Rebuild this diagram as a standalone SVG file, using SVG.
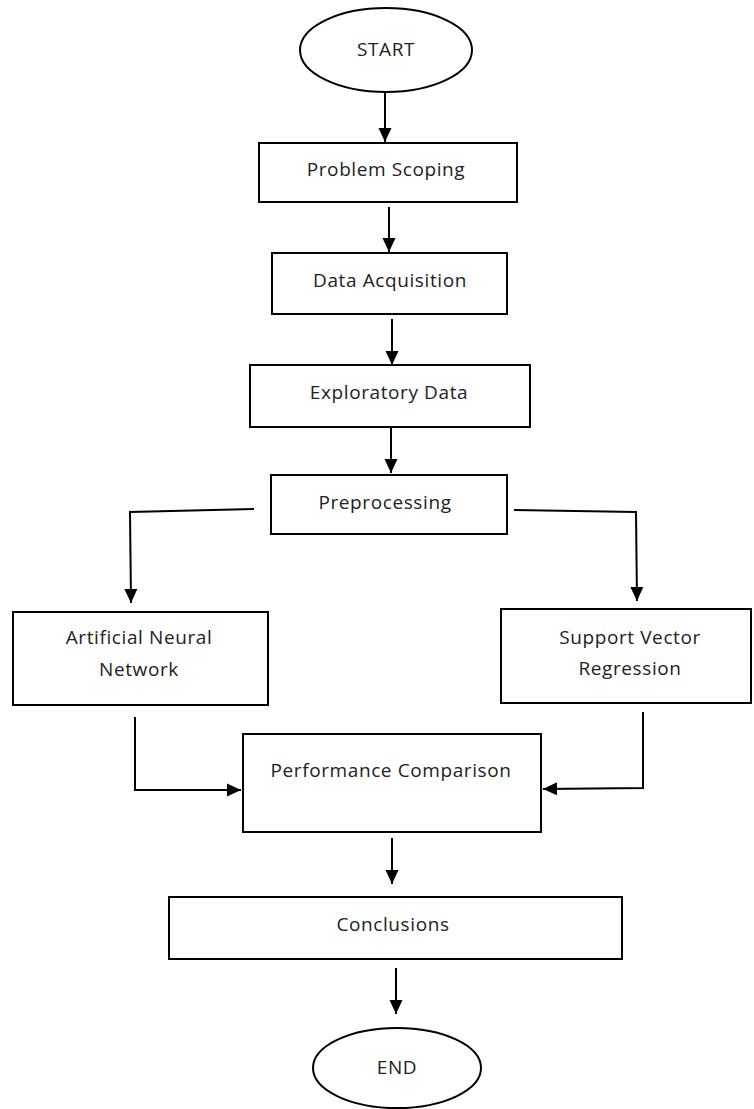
<svg xmlns="http://www.w3.org/2000/svg" width="754" height="1109" viewBox="0 0 754 1109">
<style>
.box{fill:#fff;stroke:#000;stroke-width:2}
.lbl{font-family:"Open Sans","DejaVu Sans",sans-serif;font-size:19px;letter-spacing:0.6px;fill:#222;text-anchor:middle;dominant-baseline:central}
.conn{fill:none;stroke:#000;stroke-width:2}
</style>
<defs>
<marker id="ah" markerUnits="userSpaceOnUse" markerWidth="14" markerHeight="14" refX="14" refY="6.5" orient="auto" viewBox="0 0 14 13">
<path d="M0,0 L14,6.5 L0,13 z" fill="#000"/>
</marker>
</defs>
<rect width="754" height="1109" fill="#fff"/>
<g id="start"><ellipse class="box" cx="386" cy="50" rx="86" ry="42"/><text class="lbl" x="386" y="49">START</text></g>
<g id="problem"><rect class="box" x="259" y="143" width="258" height="59"/><text class="lbl" x="386" y="169">Problem Scoping</text></g>
<g id="data"><rect class="box" x="272" y="253" width="235" height="61"/><text class="lbl" x="390" y="280">Data Acquisition</text></g>
<g id="explore"><rect class="box" x="250" y="365" width="280" height="62"/><text class="lbl" x="389" y="392">Exploratory Data</text></g>
<g id="prep"><rect class="box" x="271" y="475" width="236" height="59"/><text class="lbl" x="385" y="502">Preprocessing</text></g>
<g id="ann"><rect class="box" x="13" y="612" width="255" height="93"/><text class="lbl" x="139" y="637">Artificial Neural</text><text class="lbl" x="139" y="669">Network</text></g>
<g id="svr"><rect class="box" x="501" y="609" width="250" height="94"/><text class="lbl" x="630" y="637">Support Vector</text><text class="lbl" x="630" y="668">Regression</text></g>
<g id="perf"><rect class="box" x="243" y="734" width="298" height="98"/><text class="lbl" x="391" y="770">Performance Comparison</text></g>
<g id="concl"><rect class="box" x="169" y="897" width="453" height="62"/><text class="lbl" x="393" y="924">Conclusions</text></g>
<g id="end"><ellipse class="box" cx="397" cy="1068" rx="84" ry="40"/><text class="lbl" x="397" y="1067">END</text></g>
<g id="connectors">
<line class="conn" x1="385" y1="92" x2="385" y2="142" marker-end="url(#ah)"/>
<line class="conn" x1="389" y1="207" x2="389" y2="252" marker-end="url(#ah)"/>
<line class="conn" x1="392" y1="319" x2="392" y2="365" marker-end="url(#ah)"/>
<line class="conn" x1="391" y1="428" x2="391" y2="473" marker-end="url(#ah)"/>
<path class="conn" d="M254,509 L130,512 L131,603" marker-end="url(#ah)"/>
<path class="conn" d="M514,510 L636,512 L637,601" marker-end="url(#ah)"/>
<path class="conn" d="M135,717 L135,790 L241,790" marker-end="url(#ah)"/>
<path class="conn" d="M643,712 L643,788 L543,789" marker-end="url(#ah)"/>
<line class="conn" x1="392" y1="838" x2="392" y2="884" marker-end="url(#ah)"/>
<line class="conn" x1="396" y1="968" x2="396" y2="1014" marker-end="url(#ah)"/>
</g>
</svg>
